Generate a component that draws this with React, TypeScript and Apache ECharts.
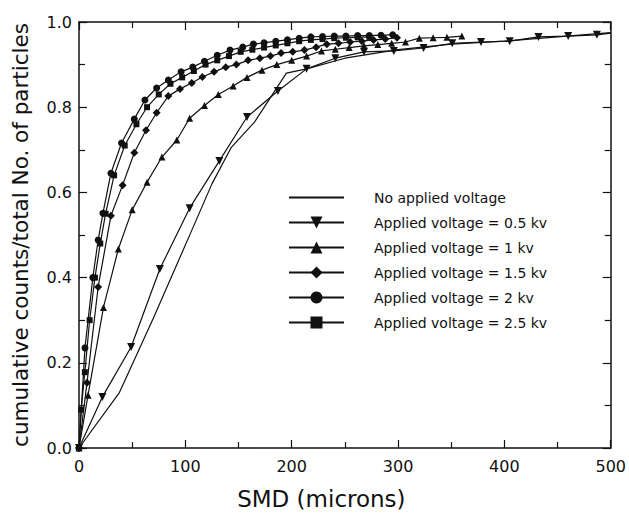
import React, { useEffect, useRef } from "react";
import * as echarts from "echarts";

const seriesNames = [
  "No applied voltage",
  "Applied voltage = 0.5 kv",
  "Applied voltage = 1 kv",
  "Applied voltage = 1.5 kv",
  "Applied voltage = 2 kv",
  "Applied voltage = 2.5 kv",
];

const xTickValues = [0, 100, 200, 300, 400, 500];
const yTickValues = [0, 0.2, 0.4, 0.6, 0.8, 1.0];

const noVoltageX = [0, 38, 70, 105, 125, 143, 165, 195, 214, 250, 300, 350, 400, 450, 500];
const noVoltageY = [0, 0.13, 0.305, 0.505, 0.62, 0.705, 0.765, 0.88, 0.89, 0.915, 0.935, 0.948, 0.955, 0.965, 0.975];

const kv05X = [0, 22, 49, 76, 104, 132, 158, 187, 214, 241, 268, 296, 324, 351, 378, 405, 432, 460, 487];
const kv05Y = [0, 0.12, 0.237, 0.42, 0.563, 0.674, 0.777, 0.838, 0.89, 0.915, 0.93, 0.932, 0.939, 0.95, 0.953, 0.955, 0.965, 0.967, 0.97];
const kv05EndX = 500;
const kv05EndY = 0.974;

const kv1X = [0, 8.5, 23, 37, 50, 64, 78, 92, 104, 118, 131, 145, 158, 172, 186, 200, 214, 228, 241, 254, 268, 281, 294, 307, 320, 333, 346, 360];
const kv1Y = [0, 0.124, 0.33, 0.467, 0.559, 0.624, 0.683, 0.723, 0.774, 0.804, 0.83, 0.85, 0.87, 0.887, 0.9, 0.91, 0.92, 0.932, 0.936, 0.94, 0.944, 0.947, 0.95, 0.953, 0.962, 0.963, 0.964, 0.967];

const kv15X = [0, 7.5, 18, 30, 41, 52, 63, 73, 84, 95, 106, 116, 127, 138, 148, 159, 170, 180, 190, 201, 212, 223, 233, 244, 255, 266, 277, 288, 299];
const kv15Y = [0, 0.153, 0.378, 0.545, 0.617, 0.693, 0.746, 0.787, 0.826, 0.843, 0.857, 0.871, 0.883, 0.894, 0.9, 0.91, 0.915, 0.92, 0.927, 0.93, 0.934, 0.941, 0.948, 0.95, 0.953, 0.955, 0.958, 0.96, 0.963];

const kv2X = [0, 5.6, 13, 18, 22.5, 30, 40, 52, 62, 73, 84, 96, 107, 118, 130, 142, 154, 164, 174, 185, 196, 207, 218, 229, 240, 251, 262, 273, 284, 295];
const kv2Y = [0, 0.235, 0.4, 0.488, 0.551, 0.645, 0.716, 0.772, 0.817, 0.845, 0.864, 0.883, 0.894, 0.908, 0.922, 0.934, 0.941, 0.948, 0.951, 0.955, 0.958, 0.962, 0.965, 0.966, 0.967, 0.967, 0.968, 0.968, 0.969, 0.97];

const kv25X = [0, 2, 5.5, 10, 15, 20, 25, 33, 43, 54, 64, 75, 86, 97, 108, 119, 130, 141, 152, 163, 174, 185, 196, 207, 218, 229, 240, 251, 262, 273];
const kv25Y = [0, 0.09, 0.178, 0.3, 0.4, 0.48, 0.55, 0.64, 0.71, 0.76, 0.8, 0.83, 0.855, 0.87, 0.885, 0.9, 0.91, 0.92, 0.93, 0.935, 0.94, 0.945, 0.95, 0.955, 0.958, 0.96, 0.962, 0.963, 0.964, 0.965];

const FONT = "DejaVu Sans";

function pairs(xs: number[], ys: number[]) {
  return xs.map((x, i) => [x, ys[i]]);
}

export default function App() {
  const ref = useRef<HTMLDivElement>(null);
  useEffect(() => {
    if (!ref.current) return;
    const chart = echarts.init(ref.current, undefined, { renderer: "svg" });
    const black = "#111";
    const axisCommon = {
      axisLine: { show: true, onZero: false, lineStyle: { color: black, width: 1.5 } },
      axisTick: { show: true, inside: true, length: 8, lineStyle: { color: black, width: 1.2 } },
      minorTick: { show: true, splitNumber: 2, length: 6, lineStyle: { color: black, width: 1.2 } },
      splitLine: { show: false },
      minorSplitLine: { show: false },
    };
    const lineSeries = (name: string, data: any[], symbol: string, size: number, extra: any = {}) => ({
      name,
      type: "line",
      data,
      symbol,
      symbolSize: size,
      showSymbol: symbol !== "none",
      lineStyle: { color: black, width: 1.2 },
      itemStyle: { color: black },
      emphasis: { disabled: true },
      ...extra,
    });
    const kv05Data: any[] = pairs(kv05X, kv05Y);
    kv05Data.push({ value: [kv05EndX, kv05EndY], symbol: "none" });

    const legendData: any[] = seriesNames.map((n, i) =>
      i === 0 ? { name: n, itemStyle: { opacity: 0 } } : { name: n }
    );

    chart.setOption({
      animation: false,
      backgroundColor: "#fff",
      grid: { left: 79, right: 17, top: 22, bottom: 72, containLabel: false },
      legend: {
        orient: "vertical",
        left: 288,
        top: 190,
        padding: 0,
        itemWidth: 55,
        itemHeight: 15,
        itemGap: 10,
        data: legendData,
        textStyle: {
          fontSize: 14,
          lineHeight: 15,
          color: black,
          fontFamily: FONT,
          padding: [0, 0, 0, 25],
        },
      },
      xAxis: [
        {
          type: "value",
          position: "bottom",
          min: xTickValues[0],
          max: xTickValues[xTickValues.length - 1],
          interval: 100,
          ...axisCommon,
          axisLabel: { fontSize: 16, color: black, fontFamily: FONT, margin: 10 },
          name: "SMD (microns)",
          nameLocation: "middle",
          nameGap: 39,
          nameTextStyle: { fontSize: 23, color: black, fontFamily: FONT, padding: [0, 47, 0, 0] },
        },
        {
          type: "value",
          position: "top",
          min: xTickValues[0],
          max: xTickValues[xTickValues.length - 1],
          interval: 100,
          ...axisCommon,
          axisLabel: { show: false },
        },
      ],
      yAxis: [
        {
          type: "value",
          position: "left",
          min: yTickValues[0],
          max: yTickValues[yTickValues.length - 1],
          interval: 0.2,
          ...axisCommon,
          axisLabel: {
            fontSize: 16,
            color: black,
            fontFamily: FONT,
            margin: 7,
            formatter: (v: number) => v.toFixed(1),
          },
          name: "cumulative counts/total No. of particles",
          nameLocation: "middle",
          nameGap: 48,
          nameTextStyle: { fontSize: 21.5, color: black, fontFamily: FONT },
        },
        {
          type: "value",
          position: "right",
          min: yTickValues[0],
          max: yTickValues[yTickValues.length - 1],
          interval: 0.2,
          ...axisCommon,
          axisLabel: { show: false },
        },
      ],
      series: [
        lineSeries(seriesNames[0], pairs(noVoltageX, noVoltageY), "none", 0),
        lineSeries(seriesNames[1], kv05Data, "triangle", 8, { symbolRotate: 180 }),
        lineSeries(seriesNames[2], pairs(kv1X, kv1Y), "triangle", 7),
        lineSeries(seriesNames[3], pairs(kv15X, kv15Y), "diamond", 8),
        lineSeries(seriesNames[4], pairs(kv2X, kv2Y), "circle", 7),
        lineSeries(seriesNames[5], pairs(kv25X, kv25Y), "rect", 6),
      ],
    });
    return () => chart.dispose();
  }, []);
  return (
    <div
      ref={ref}
      style={{ position: "fixed", left: 0, top: 0, width: 629, height: 520 }}
    />
  );
}
